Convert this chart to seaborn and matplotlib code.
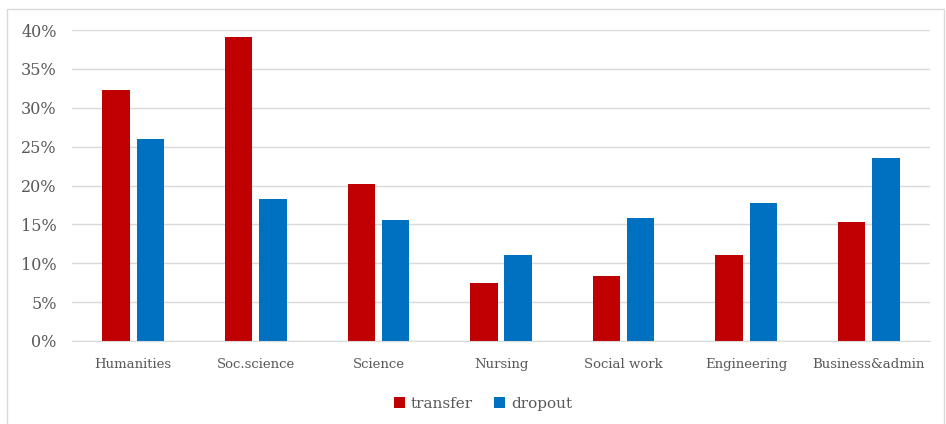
import seaborn as sns
import matplotlib.pyplot as plt
import pandas as pd
from matplotlib.patches import Rectangle
from matplotlib.ticker import PercentFormatter

# data (percent)
categories = ['Humanities', 'Soc.science', 'Science', 'Nursing',
              'Social work', 'Engineering', 'Business&admin']
transfer = [32.3, 39.1, 20.2, 7.5, 8.3, 11.1, 15.3]
dropout = [26.0, 18.3, 15.6, 11.0, 15.8, 17.8, 23.6]

df = pd.DataFrame({
    'category': categories * 2,
    'value': transfer + dropout,
    'series': ['transfer'] * len(categories) + ['dropout'] * len(categories),
})

sns.set_style('white')
plt.rcParams['font.family'] = ['DejaVu Serif']
text_color = '#595959'

fig = plt.figure(figsize=(9.46, 4.24), dpi=100)
ax = fig.add_axes([0.0761, 0.196, 0.907, 0.733])

sns.barplot(
    data=df, x='category', y='value', hue='series',
    palette={'transfer': '#C00000', 'dropout': '#0070C0'},
    width=0.56, gap=0.2, ax=ax, saturation=1, edgecolor='none'
)

ax.set_ylim(0, 40)
ax.set_yticks(range(0, 41, 5))
ax.yaxis.set_major_formatter(PercentFormatter(decimals=0))
ax.set_xlim(-0.5, len(categories) - 0.5)
ax.grid(axis='y', color='#D9D9D9', linewidth=1)
ax.set_axisbelow(True)
for s in ['top', 'right', 'left']:
    ax.spines[s].set_visible(False)
ax.spines['bottom'].set_color('#D9D9D9')
ax.set_xlabel('')
ax.set_ylabel('')
ax.tick_params(axis='y', length=0, labelsize=11.5, labelcolor=text_color, pad=11)
ax.tick_params(axis='x', length=0, labelsize=9.5, labelcolor=text_color, pad=12)

ax.legend(loc='upper center', bbox_to_anchor=(0.479, -0.135), ncol=2,
          frameon=False, fontsize=11, labelcolor=text_color,
          handlelength=0.7, handleheight=0.7, handletextpad=0.4,
          columnspacing=1.4)

fig.patches.append(Rectangle((0.0074, -0.01), 0.991, 0.9895,
                             transform=fig.transFigure, fill=False,
                             edgecolor='#D9D9D9', linewidth=1))

fig.savefig('out.png', dpi=100)
